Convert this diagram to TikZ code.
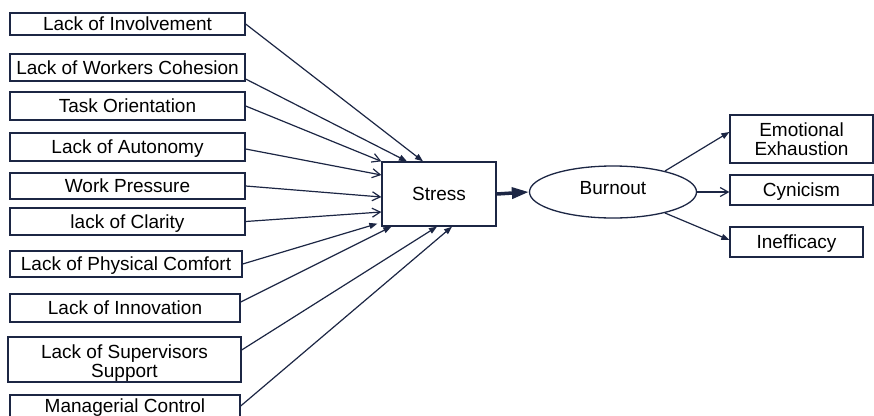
\documentclass[tikz,border=0pt]{standalone}
\usepackage{fontspec}
\setmainfont{Liberation Sans}
\usetikzlibrary{arrows.meta,shapes.geometric}
\definecolor{navy}{RGB}{28,38,68}
\begin{document}
\begin{tikzpicture}[x=1pt,y=-1pt,
  box/.style={draw=navy, line width=1.3pt, rectangle, inner sep=0pt, text=black, font=\fontsize{19}{19}\selectfont},
  one/.style={text height=13.5pt, text depth=0pt},
  two/.style={align=center},
  fil/.style={draw=navy, line width=1.2pt, -{Triangle[length=8pt,width=6pt]}},
  opn/.style={draw=navy, line width=1.2pt, -{Straight Barb[length=8pt,width=9pt,line width=1.2pt]}},
]
\useasboundingbox[fill=white] (0,0) rectangle (874,415);
\node[box,one,minimum width=235pt,minimum height=22pt] (inv) at (127.5,24) {Lack of Involvement};
\node[box,one,minimum width=235pt,minimum height=27pt] (coh) at (127.5,67.5) {Lack of Workers Cohesion};
\node[box,one,minimum width=235pt,minimum height=28pt] (task) at (127.5,106) {Task Orientation};
\node[box,one,minimum width=235pt,minimum height=28pt] (aut) at (127.5,147) {Lack of Autonomy};
\node[box,one,minimum width=235pt,minimum height=26pt] (wp) at (127.5,186) {Work Pressure};
\node[box,one,minimum width=235pt,minimum height=27pt] (cla) at (127.5,221.5) {lack of Clarity};
\node[box,one,minimum width=232pt,minimum height=26pt] (phy) at (126,264) {Lack of Physical Comfort};
\node[box,one,minimum width=230pt,minimum height=28pt] (inn) at (125,308) {Lack of Innovation};
\node[box,two,minimum width=233pt,minimum height=45pt] (sup) at (124.5,359.5) {\rule{0pt}{20pt}Lack of Supervisors\\Support};
\node[box,one,minimum width=230pt,minimum height=22pt] (man) at (125,406) {Managerial Control};

\node[box,one,minimum width=114pt,minimum height=64pt] (stress) at (439,194) {Stress};
\node[box,ellipse,text height=13.5pt,text depth=9pt,minimum width=167pt,minimum height=52pt] (burn) at (613,192) {Burnout};

\node[box,two,minimum width=143pt,minimum height=48pt] (emo) at (801.5,139) {Emotional\\Exhaustion};
\node[box,one,minimum width=143pt,minimum height=30pt] (cyn) at (801.5,190) {Cynicism};
\node[box,one,minimum width=133pt,minimum height=30pt] (ineff) at (796.5,242) {Inefficacy};

\draw[fil] (inv.east) -- ([xshift=-16pt]stress.north);
\draw[fil] ([yshift=-11.5pt]coh.east) -- ([xshift=-32pt]stress.north);
\draw[opn] (task.east) -- (stress.north west);
\draw[opn] ([yshift=-2pt]aut.east) -- ([yshift=19pt]stress.west);
\draw[opn] (wp.east) -- ([yshift=-3pt]stress.west);
\draw[opn] (cla.east) -- ([yshift=-18pt]stress.west);
\draw[fil] (phy.east) -- ([xshift=-4pt,yshift=3pt]stress.south west);
\draw[fil] ([yshift=6pt]inn.east) -- ([xshift=10pt]stress.south west);
\draw[fil] ([yshift=9.5pt]sup.east) -- ([xshift=-2pt]stress.south);
\draw[fil] (man.east) -- ([xshift=13pt]stress.south);

\draw[navy, line width=3.5pt, -{Triangle[length=17pt,width=11pt]}] (stress.east) -- (burn.west);

\draw[fil] (burn.22) -- ([yshift=7pt]emo.west);
\draw[opn] (burn.east) -- (burn.east -| cyn.west);
\draw[fil] (burn.-22) -- ([yshift=2pt]ineff.west);
\end{tikzpicture}
\end{document}
